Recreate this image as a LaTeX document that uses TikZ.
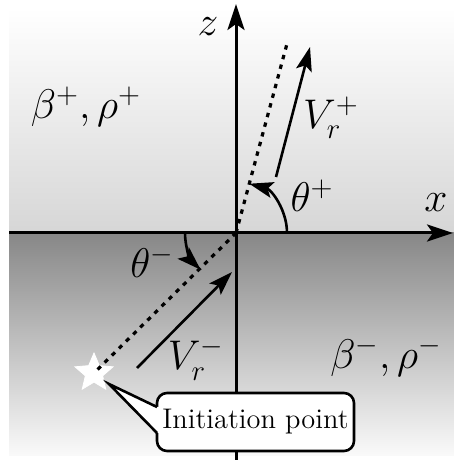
\documentclass[tikz,border=0pt]{standalone}
\usetikzlibrary{arrows.meta,shapes.geometric}
\begin{document}
\begin{tikzpicture}[x=0.5pt,y=0.5pt,
  lab/.style={font=\fontsize{22}{26}\selectfont, inner sep=0pt},
  axis/.style={line width=1.5pt, -{Stealth[length=13pt,width=8.5pt,inset=3pt]}},
  vec/.style={line width=1.3pt, -{Stealth[length=12pt,width=8pt,inset=2.5pt]}},
  dotline/.style={line width=1.6pt, dash pattern=on 2.2pt off 2.8pt},
]
\useasboundingbox (0,0) rectangle (454,460);
\shade[top color=white, bottom color=black!16] (9,227) rectangle (454,452);
\shade[top color=black!47, bottom color=black!2] (9,4) rectangle (454,227);
% coordinates
\coordinate (O) at (236,227);
\coordinate (xs) at (9,227);
\coordinate (xe) at (453,227);
\coordinate (zs) at (236,0);
\coordinate (ze) at (236,456);
\coordinate (up) at (288,420);
\coordinate (vps) at (276,283);
\coordinate (vpe) at (310,413);
\coordinate (vms) at (137,92);
\coordinate (vme) at (232,188);
\coordinate (tip) at (109,76);
\coordinate (pa) at (157,53);
\coordinate (pb) at (157,27);
% axes
\draw[axis] (zs) -- (ze);
\draw[axis] (xs) -- (xe);
% star
\node (star) [star, star points=5, star point ratio=2.2, fill=white, draw=white, inner sep=0pt, minimum size=20pt] at (94,87) {};
% dotted lines
\draw[dotline] (O) -- (up);
\draw[dotline] (O) -- (star.center);
% vectors
\draw[vec] (vps) -- (vpe);
\draw[vec] (vms) -- (vme);
% angle arcs
\draw[vec] ([shift={(0:51)}]O) arc[start angle=0,end angle=75,radius=51];
\draw[vec] ([shift={(180:51)}]O) arc[start angle=180,end angle=226,radius=51];
% callout
\node (box) [draw, line width=1.3pt, fill=white, rounded corners=5pt, minimum width=98.5pt, minimum height=29pt, inner sep=0pt, font=\rmfamily\fontsize{14.2}{17}\selectfont] at (255.5,38) {Initiation point};
\fill[white] (tip) -- (155,53) -- (161,53) -- (161,27) -- (155,27) -- cycle;
\draw[line width=1.3pt, line join=miter] (pa) -- (tip) -- (pb);
% labels
\node (lz) [lab] at (208,433) {$z$};
\node (lx) [lab] at (436,257) {$x$};
\node (lbp) [lab] at (86,353) {$\beta^+,\rho^+$};
\node (lvp) [lab] at (331,342) {$V_r^+$};
\node (ltp) [lab] at (312,264) {$\theta^+$};
\node (ltm) [lab] at (152,198) {$\theta^-$};
\node (lvm) [lab] at (196,101) {$V_r^-$};
\node (lbm) [lab] at (386,103) {$\beta^-,\rho^-$};
\end{tikzpicture}
\end{document}
